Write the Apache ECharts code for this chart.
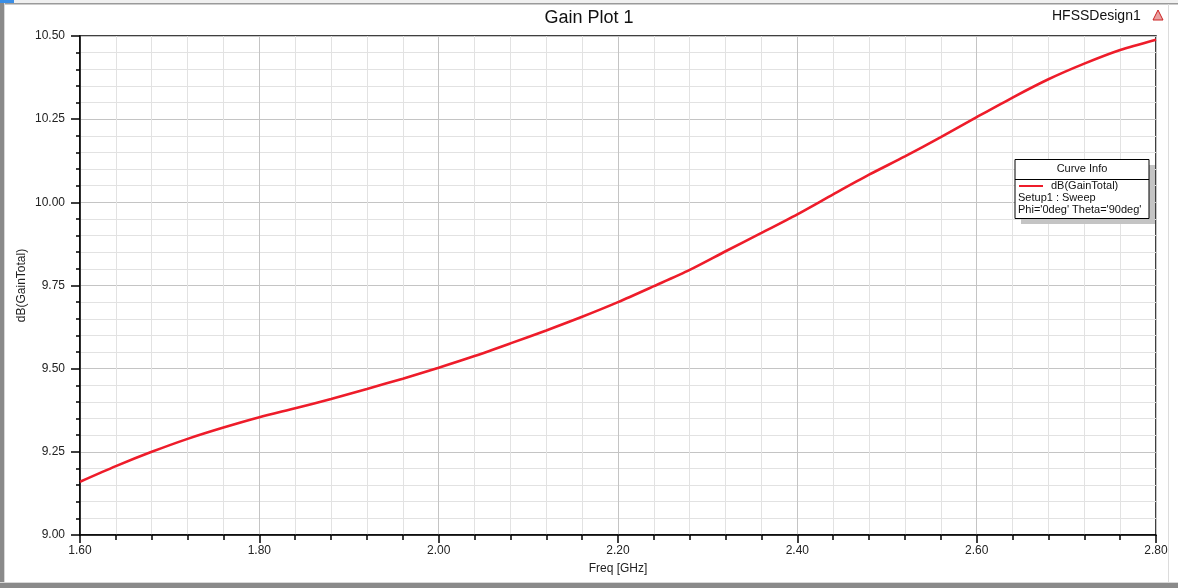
<!DOCTYPE html>
<html>
<head>
<meta charset="utf-8">
<script src="https://cdn.jsdelivr.net/npm/echarts@6/dist/echarts.min.js"></script>
<style>
html,body{margin:0;padding:0;background:#fff;}
#chart{width:1178px;height:588px;}
</style>
</head>
<body>
<div id="chart"></div>
<script>
const freqGHz = [1.60,1.64,1.68,1.72,1.76,1.80,1.84,1.88,1.92,1.96,2.00,2.04,2.08,2.12,2.16,2.20,2.24,2.28,2.32,2.36,2.40,2.44,2.48,2.52,2.56,2.60,2.64,2.68,2.72,2.76,2.80];
const gainTotalDb = [9.160,9.207,9.250,9.289,9.323,9.354,9.381,9.409,9.439,9.470,9.503,9.538,9.576,9.615,9.656,9.700,9.748,9.797,9.853,9.908,9.964,10.024,10.083,10.138,10.196,10.256,10.315,10.370,10.417,10.458,10.489];
const titleText = 'Gain Plot 1';
const designName = 'HFSSDesign1';
const xAxisName = 'Freq [GHz]';
const yAxisName = 'dB(GainTotal)';
const legendLines = ['Curve Info','dB(GainTotal)','Setup1 : Sweep',"Phi='0deg' Theta='90deg'"];

const chart = echarts.init(document.getElementById('chart'));
const font = 'Arial, "Liberation Sans", sans-serif';
const seriesData = freqGHz.map((f,i)=>[f, gainTotalDb[i]]);

chart.setOption({
  animation:false,
  backgroundColor:'#fff',
  title:{
    text:titleText, left:'center', top:4,
    textStyle:{fontFamily:font, fontSize:18, fontWeight:'normal', color:'#111'}
  },
  grid:{left:80, right:22, top:36, bottom:53, show:true, borderColor:'#000', borderWidth:1.5, backgroundColor:'transparent'},
  xAxis:{
    type:'value', min:1.6, max:2.8, interval:0.2,
    name:xAxisName, nameLocation:'middle', nameGap:28, nameMoveOverlap:false,
    nameTextStyle:{fontFamily:font, fontSize:12, color:'#222'},
    axisLine:{show:true, onZero:false, lineStyle:{color:'#000', width:1.5}},
    axisTick:{show:true, length:8, lineStyle:{color:'#000', width:1.5}},
    minorTick:{show:true, splitNumber:5, length:5, lineStyle:{color:'#000', width:1.5}},
    axisLabel:{fontFamily:font, fontSize:12, color:'#222', margin:10, formatter:v=>v.toFixed(2)},
    splitLine:{show:true, lineStyle:{color:'#c4c4c4', width:1}},
    minorSplitLine:{show:true, lineStyle:{color:'#e2e2e2', width:1}}
  },
  yAxis:{
    type:'value', min:9, max:10.5, interval:0.25,
    name:yAxisName, nameLocation:'middle', nameGap:52, nameRotate:90, nameMoveOverlap:false,
    nameTextStyle:{fontFamily:font, fontSize:12, color:'#222'},
    axisLine:{show:true, onZero:false, lineStyle:{color:'#000', width:1.5}},
    axisTick:{show:true, length:9, lineStyle:{color:'#000', width:1.5}},
    minorTick:{show:true, splitNumber:5, length:4, lineStyle:{color:'#000', width:1.5}},
    axisLabel:{fontFamily:font, fontSize:12, color:'#222', margin:15, formatter:v=>v.toFixed(2)},
    splitLine:{show:true, lineStyle:{color:'#c4c4c4', width:1}},
    minorSplitLine:{show:true, lineStyle:{color:'#e2e2e2', width:1}}
  },
  series:[{
    type:'line', name:legendLines[1], data:seriesData, showSymbol:false, smooth:0.25,
    lineStyle:{color:'#ee1c2a', width:2.6}, z:5
  }],
  graphic:[
    {type:'rect', shape:{x:0,y:0,width:1178,height:3}, style:{fill:'#f0f0f0'}, silent:true},
    {type:'rect', shape:{x:0,y:0,width:14,height:3}, style:{fill:'#3a8ee6'}, silent:true},
    {type:'rect', shape:{x:0,y:3,width:1178,height:1.5}, style:{fill:'#9a9a9a'}, silent:true},
    {type:'rect', shape:{x:0,y:3,width:4,height:585}, style:{fill:'#8a8a8a'}, silent:true},
    {type:'rect', shape:{x:4,y:3,width:1,height:580}, style:{fill:'#d8d8d8'}, silent:true},
    {type:'rect', shape:{x:0,y:583,width:1178,height:5}, style:{fill:'#8a8a8a'}, silent:true},
    {type:'rect', shape:{x:0,y:582,width:1178,height:1}, style:{fill:'#d8d8d8'}, silent:true},
    {type:'rect', shape:{x:1168,y:4,width:1,height:578}, style:{fill:'#dcdcdc'}, silent:true},
    {type:'text', left:1052, top:9, style:{text:designName, font:'14px '+font, fill:'#111'}, silent:true},
    {type:'polygon', shape:{points:[[1153,20],[1158,10],[1163,20]]}, style:{fill:'#e8a0a0', stroke:'#cc2222', lineWidth:1}, silent:true},
    {type:'rect', shape:{x:1021,y:165,width:134,height:59}, style:{fill:'#c4c4c4'}, z:10, silent:true},
    {type:'rect', shape:{x:1015,y:159.5,width:134,height:59}, style:{fill:'#fff', stroke:'#000', lineWidth:1}, z:11, silent:true},
    {type:'line', shape:{x1:1015,y1:179.5,x2:1149,y2:179.5}, style:{stroke:'#000', lineWidth:1}, z:12, silent:true},
    {type:'text', x:1082, y:169, style:{text:legendLines[0], font:'11px '+font, fill:'#111', align:'center', verticalAlign:'middle'}, z:12, silent:true},
    {type:'line', shape:{x1:1019,y1:186,x2:1043,y2:186}, style:{stroke:'#ee1c2a', lineWidth:2}, z:12, silent:true},
    {type:'text', x:1051, y:186, style:{text:legendLines[1], font:'11px '+font, fill:'#111', verticalAlign:'middle'}, z:12, silent:true},
    {type:'text', x:1018, y:198, style:{text:legendLines[2], font:'11px '+font, fill:'#111', verticalAlign:'middle'}, z:12, silent:true},
    {type:'text', x:1018, y:210, style:{text:legendLines[3], font:'11px '+font, fill:'#111', verticalAlign:'middle'}, z:12, silent:true}
  ]
});
</script>
</body>
</html>
